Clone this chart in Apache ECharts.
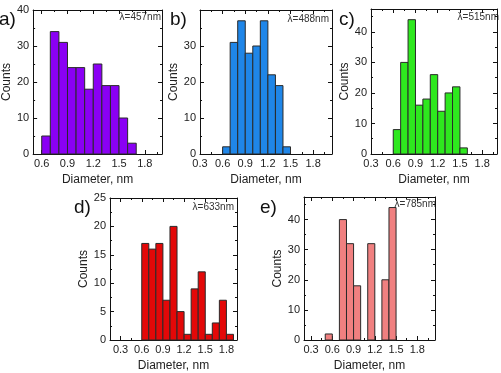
<!DOCTYPE html>
<html>
<head>
<meta charset="utf-8">
<script src="https://cdn.jsdelivr.net/npm/echarts@6/dist/echarts.min.js"></script>
<style>
  html, body { margin: 0; padding: 0; background: #fff; }
  #main { width: 501px; height: 373px; }
</style>
</head>
<body>
<div id="main"></div>
<script>
var chartDom = document.getElementById('main');
var myChart = echarts.init(chartDom);
var option;

// histogram data: lower edge of each bin (nm) and counts
var binWidth = 0.1;
var binStartA = [0.6, 0.7, 0.8, 0.9, 1.0, 1.1, 1.2, 1.3, 1.4, 1.5, 1.6];
var countsA   = [5, 34, 31, 24, 24, 18, 25, 19, 19, 10, 3];
var binStartB = [0.6, 0.7, 0.8, 0.9, 1.0, 1.1, 1.2, 1.3, 1.4];
var countsB   = [2, 31, 37, 28, 30, 37, 22, 19, 2];
var binStartC = [0.6, 0.7, 0.8, 0.9, 1.0, 1.1, 1.2, 1.3, 1.4, 1.5];
var countsC   = [8, 30, 44, 16, 18, 26, 14, 20, 22, 2];
var binStartD = [0.6, 0.7, 0.8, 0.9, 1.0, 1.1, 1.2, 1.3, 1.4, 1.5, 1.6, 1.7, 1.8];
var countsD   = [17, 16, 17, 7, 20, 5, 1, 9, 12, 1, 3, 7, 1];
var binStartE = [0.5, 0.7, 0.8, 0.9, 1.1, 1.3, 1.4];
var countsE   = [2, 40, 32, 18, 32, 20, 44];

var panelLabels = ['a)', 'b)', 'c)', 'd)', 'e)'];
var wavelengths = ['λ=457nm', 'λ=488nm', 'λ=515nm', 'λ=633nm', 'λ=785nm'];
var xMajorTicks = [0.3, 0.6, 0.9, 1.2, 1.5, 1.8];
var xMinorTicks = [0.15, 0.45, 0.75, 1.05, 1.35, 1.65, 1.95];

var panels = [
  { bins: binStartA, counts: countsA, color: '#8a00f4', grid: [31, 10, 131, 144], xr: [0.5, 2.0],  ymax: 40,   step: 10, showMax: true,  lab: [-1, 10],  lam: [161, 12] },
  { bins: binStartB, counts: countsB, color: '#1f86e8', grid: [200, 10, 132, 144], xr: [0.3, 2.05], ymax: 40,  step: 10, showMax: false, lab: [170, 10], lam: [329, 14] },
  { bins: binStartC, counts: countsC, color: '#2ee81e', grid: [371, 9, 126, 145], xr: [0.3, 2.0],  ymax: 47.5, step: 10, showMax: false, lab: [339, 10], lam: [499, 12] },
  { bins: binStartD, counts: countsD, color: '#e30808', grid: [110, 198, 127, 144], xr: [0.15, 1.95], ymax: 25, step: 5, showMax: true,  lab: [74, 198],  lam: [234, 202] },
  { bins: binStartE, counts: countsE, color: '#f08080', grid: [304, 197, 131, 145], xr: [0.2, 2.05], ymax: 47.5, step: 10, showMax: false, lab: [260, 198], lam: [436, 199] }
];

var textColor = '#222';
var fontFamily = 'Liberation Sans, Arial, sans-serif';

function inRange(list, r) {
  return list.filter(function (v) { return v > r[0] + 1e-6 && v < r[1] - 1e-6; });
}

function renderBar(params, api) {
  var p0 = api.coord([api.value(0), api.value(2)]);
  var p1 = api.coord([api.value(1), 0]);
  return {
    type: 'rect',
    shape: { x: p0[0], y: p0[1], width: p1[0] - p0[0], height: p1[1] - p0[1] },
    style: { fill: api.visual('color'), stroke: '#2a2a2a', lineWidth: 1 }
  };
}

var grids = [], xAxes = [], yAxes = [], series = [], graphics = [];

panels.forEach(function (p, i) {
  grids.push({ left: p.grid[0], top: p.grid[1], width: p.grid[2], height: p.grid[3], containLabel: false });
  var majors = inRange(xMajorTicks, p.xr).concat(xMajorTicks.filter(function (v) { return Math.abs(v - p.xr[0]) < 1e-6; }));
  var minors = inRange(xMinorTicks, p.xr);
  var lineStyle = { color: '#111', width: 1 };
  var base = { type: 'value', gridIndex: i, min: p.xr[0], max: p.xr[1], splitLine: { show: false } };
  // bottom axis with labels and major ticks
  xAxes.push(Object.assign({}, base, {
    position: 'bottom',
    axisLine: { show: true, onZero: false, lineStyle: lineStyle },
    axisTick: { show: true, inside: true, length: 4, customValues: majors, lineStyle: lineStyle },
    axisLabel: { show: true, customValues: majors, margin: 4, fontSize: 11, color: textColor, fontFamily: fontFamily,
      formatter: function (v) { return v.toFixed(1); } },
    name: 'Diameter, nm', nameLocation: 'middle', nameGap: 20,
    nameTextStyle: { fontSize: 12, color: textColor, fontFamily: fontFamily }
  }));
  // bottom minor ticks
  xAxes.push(Object.assign({}, base, {
    position: 'bottom',
    axisLine: { show: false, onZero: false },
    axisTick: { show: true, inside: true, length: 2, customValues: minors, lineStyle: lineStyle },
    axisLabel: { show: false }
  }));
  // top mirror
  xAxes.push(Object.assign({}, base, {
    position: 'top',
    axisLine: { show: true, onZero: false, lineStyle: lineStyle },
    axisTick: { show: true, inside: true, length: 4, customValues: majors, lineStyle: lineStyle },
    axisLabel: { show: false }
  }));
  xAxes.push(Object.assign({}, base, {
    position: 'top',
    axisLine: { show: false, onZero: false },
    axisTick: { show: true, inside: true, length: 2, customValues: minors, lineStyle: lineStyle },
    axisLabel: { show: false }
  }));

  var ybase = { type: 'value', gridIndex: i, min: 0, max: p.ymax, interval: p.step, splitLine: { show: false },
    axisLine: { show: true, onZero: false, lineStyle: lineStyle },
    axisTick: { show: true, inside: true, length: 4, lineStyle: lineStyle },
    minorTick: { show: true, splitNumber: 2, length: 2, lineStyle: { color: '#111', width: 1 } } };
  yAxes.push(Object.assign({}, ybase, {
    position: 'left',
    axisLabel: { show: true, margin: 4, fontSize: 11, color: textColor, fontFamily: fontFamily, showMaxLabel: p.showMax },
    name: 'Counts', nameLocation: 'middle', nameGap: 18,
    nameTextStyle: { fontSize: 12, color: textColor, fontFamily: fontFamily }
  }));
  yAxes.push(Object.assign({}, ybase, {
    position: 'right',
    axisLabel: { show: false }
  }));

  series.push({
    type: 'custom',
    xAxisIndex: i * 4,
    yAxisIndex: i * 2,
    renderItem: renderBar,
    itemStyle: { color: p.color },
    encode: { x: [0, 1], y: 2 },
    data: p.bins.map(function (b, k) { return [b, b + binWidth, p.counts[k]]; })
  });

  graphics.push({
    type: 'text', left: p.lab[0], top: p.lab[1],
    style: { text: panelLabels[i], fontSize: 19, fill: '#111', fontFamily: fontFamily }
  });
  graphics.push({
    type: 'text', x: p.lam[0], y: p.lam[1],
    style: { text: wavelengths[i], fontSize: 10, fill: '#333', fontFamily: fontFamily, align: 'right', verticalAlign: 'top' }
  });
});

option = {
  backgroundColor: '#fff',
  animation: false,
  grid: grids,
  xAxis: xAxes,
  yAxis: yAxes,
  series: series,
  graphic: graphics
};

option && myChart.setOption(option);
</script>
</body>
</html>
